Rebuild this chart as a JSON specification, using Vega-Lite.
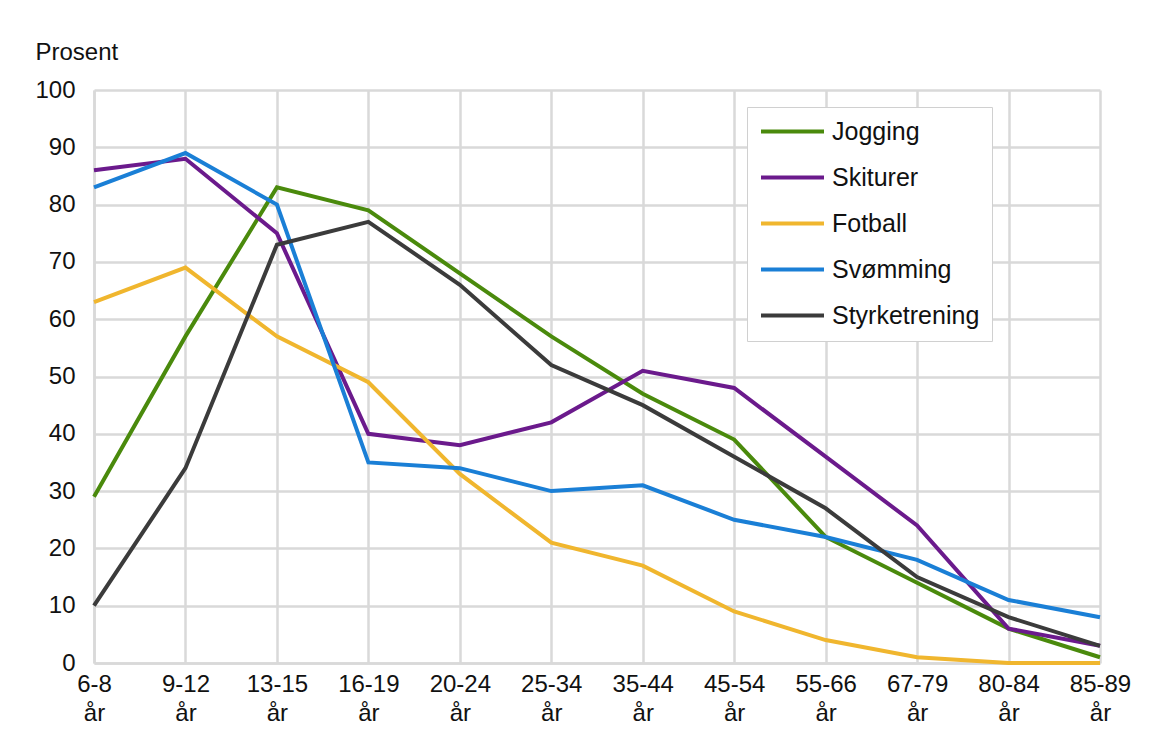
{
  "$schema": "https://vega.github.io/schema/vega-lite/v6.json",
  "autosize": {"type": "none"},
  "padding": {"left": 94, "top": 90, "right": 73, "bottom": 75},
  "width": 1006,
  "height": 573,
  "background": "white",
  "config": {
    "font": "Liberation Sans",
    "view": {"stroke": null}
  },
  "data": {
    "values": [
      {"alder": "6-8", "aktivitet": "Jogging", "prosent": 29},
      {"alder": "9-12", "aktivitet": "Jogging", "prosent": 57},
      {"alder": "13-15", "aktivitet": "Jogging", "prosent": 83},
      {"alder": "16-19", "aktivitet": "Jogging", "prosent": 79},
      {"alder": "20-24", "aktivitet": "Jogging", "prosent": 68},
      {"alder": "25-34", "aktivitet": "Jogging", "prosent": 57},
      {"alder": "35-44", "aktivitet": "Jogging", "prosent": 47},
      {"alder": "45-54", "aktivitet": "Jogging", "prosent": 39},
      {"alder": "55-66", "aktivitet": "Jogging", "prosent": 22},
      {"alder": "67-79", "aktivitet": "Jogging", "prosent": 14},
      {"alder": "80-84", "aktivitet": "Jogging", "prosent": 6},
      {"alder": "85-89", "aktivitet": "Jogging", "prosent": 1},
      {"alder": "6-8", "aktivitet": "Skiturer", "prosent": 86},
      {"alder": "9-12", "aktivitet": "Skiturer", "prosent": 88},
      {"alder": "13-15", "aktivitet": "Skiturer", "prosent": 75},
      {"alder": "16-19", "aktivitet": "Skiturer", "prosent": 40},
      {"alder": "20-24", "aktivitet": "Skiturer", "prosent": 38},
      {"alder": "25-34", "aktivitet": "Skiturer", "prosent": 42},
      {"alder": "35-44", "aktivitet": "Skiturer", "prosent": 51},
      {"alder": "45-54", "aktivitet": "Skiturer", "prosent": 48},
      {"alder": "55-66", "aktivitet": "Skiturer", "prosent": 36},
      {"alder": "67-79", "aktivitet": "Skiturer", "prosent": 24},
      {"alder": "80-84", "aktivitet": "Skiturer", "prosent": 6},
      {"alder": "85-89", "aktivitet": "Skiturer", "prosent": 3},
      {"alder": "6-8", "aktivitet": "Fotball", "prosent": 63},
      {"alder": "9-12", "aktivitet": "Fotball", "prosent": 69},
      {"alder": "13-15", "aktivitet": "Fotball", "prosent": 57},
      {"alder": "16-19", "aktivitet": "Fotball", "prosent": 49},
      {"alder": "20-24", "aktivitet": "Fotball", "prosent": 33},
      {"alder": "25-34", "aktivitet": "Fotball", "prosent": 21},
      {"alder": "35-44", "aktivitet": "Fotball", "prosent": 17},
      {"alder": "45-54", "aktivitet": "Fotball", "prosent": 9},
      {"alder": "55-66", "aktivitet": "Fotball", "prosent": 4},
      {"alder": "67-79", "aktivitet": "Fotball", "prosent": 1},
      {"alder": "80-84", "aktivitet": "Fotball", "prosent": 0},
      {"alder": "85-89", "aktivitet": "Fotball", "prosent": 0},
      {"alder": "6-8", "aktivitet": "Svømming", "prosent": 83},
      {"alder": "9-12", "aktivitet": "Svømming", "prosent": 89},
      {"alder": "13-15", "aktivitet": "Svømming", "prosent": 80},
      {"alder": "16-19", "aktivitet": "Svømming", "prosent": 35},
      {"alder": "20-24", "aktivitet": "Svømming", "prosent": 34},
      {"alder": "25-34", "aktivitet": "Svømming", "prosent": 30},
      {"alder": "35-44", "aktivitet": "Svømming", "prosent": 31},
      {"alder": "45-54", "aktivitet": "Svømming", "prosent": 25},
      {"alder": "55-66", "aktivitet": "Svømming", "prosent": 22},
      {"alder": "67-79", "aktivitet": "Svømming", "prosent": 18},
      {"alder": "80-84", "aktivitet": "Svømming", "prosent": 11},
      {"alder": "85-89", "aktivitet": "Svømming", "prosent": 8},
      {"alder": "6-8", "aktivitet": "Styrketrening", "prosent": 10},
      {"alder": "9-12", "aktivitet": "Styrketrening", "prosent": 34},
      {"alder": "13-15", "aktivitet": "Styrketrening", "prosent": 73},
      {"alder": "16-19", "aktivitet": "Styrketrening", "prosent": 77},
      {"alder": "20-24", "aktivitet": "Styrketrening", "prosent": 66},
      {"alder": "25-34", "aktivitet": "Styrketrening", "prosent": 52},
      {"alder": "35-44", "aktivitet": "Styrketrening", "prosent": 45},
      {"alder": "45-54", "aktivitet": "Styrketrening", "prosent": 36},
      {"alder": "55-66", "aktivitet": "Styrketrening", "prosent": 27},
      {"alder": "67-79", "aktivitet": "Styrketrening", "prosent": 15},
      {"alder": "80-84", "aktivitet": "Styrketrening", "prosent": 8},
      {"alder": "85-89", "aktivitet": "Styrketrening", "prosent": 3}
    ]
  },
  "mark": {"type": "line", "strokeWidth": 4, "strokeJoin": "miter"},
  "encoding": {
    "x": {
      "field": "alder",
      "type": "ordinal",
      "sort": null,
      "scale": {"type": "point", "padding": 0},
      "axis": {
        "title": null,
        "labelAngle": 0,
        "labelFontSize": 24,
        "labelColor": "#111",
        "labelPadding": 9,
        "labelExpr": "[datum.label, 'år']",
        "labelLineHeight": 29,
        "ticks": false,
        "grid": true,
        "gridColor": "#d9d9d9",
        "gridWidth": 2.5,
        "domainColor": "#d9d9d9",
        "domainWidth": 2.5
      }
    },
    "y": {
      "field": "prosent",
      "type": "quantitative",
      "scale": {"domain": [0, 100], "nice": false},
      "axis": {
        "title": "Prosent",
        "titleAngle": 0,
        "titleAlign": "left",
        "titleBaseline": "alphabetic",
        "titleX": -59,
        "titleY": -31,
        "titleFontSize": 24,
        "titleFontWeight": "normal",
        "titleColor": "#111",
        "values": [0, 10, 20, 30, 40, 50, 60, 70, 80, 90, 100],
        "labelFontSize": 24,
        "labelColor": "#111",
        "labelPadding": 19,
        "ticks": false,
        "grid": true,
        "gridColor": "#d9d9d9",
        "gridWidth": 2.5,
        "domainColor": "#d9d9d9",
        "domainWidth": 2.5
      }
    },
    "color": {
      "field": "aktivitet",
      "type": "nominal",
      "scale": {
        "domain": ["Jogging", "Skiturer", "Fotball", "Svømming", "Styrketrening"],
        "range": ["#4a8a0c", "#6b1a8c", "#f0b62e", "#1a7fd6", "#3b3b3b"]
      },
      "legend": {
        "title": null,
        "orient": "none",
        "legendX": 653,
        "legendY": 17,
        "symbolType": "M-1,0H5",
        "symbolSize": 441,
        "symbolStrokeWidth": 4,
        "labelFontSize": 25,
        "labelColor": "#111",
        "labelOffset": 48,
        "rowPadding": 20,
        "padding": 12,
        "strokeColor": "#d0d0d0",
        "fillColor": "white",
        "labelLimit": 300
      }
    }
  }
}
